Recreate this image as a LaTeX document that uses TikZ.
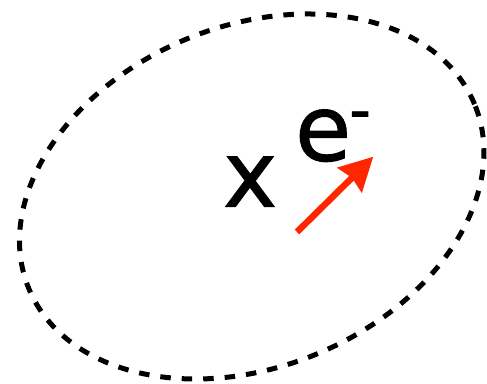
\documentclass[tikz,border=0pt]{standalone}
\usepackage{fontspec}
\setmainfont{DejaVu Sans}
\newfontfamily\heavyfont{DejaVu Sans}[FakeBold=1.2]
\usetikzlibrary{arrows.meta}
\definecolor{arrowred}{RGB}{255,38,0}
\tikzset{
  orbit/.style={line width=5pt, dash pattern=on 10.5pt off 11pt},
  bigtext/.style={inner sep=0pt, anchor=base west, font=\heavyfont\fontsize{91}{91}\selectfont},
  movearrow/.style={arrowred, line width=6.5pt, -{Stealth[length=33pt,width=34pt,inset=3pt]}}
}
\begin{document}
\begin{tikzpicture}[x=1pt,y=-1pt]
\useasboundingbox (0,0) rectangle (487,383);
\coordinate (c) at (251.75,196.5);
\draw[orbit, rotate around={22.5:(c)}] (c) ellipse [x radius=241.2pt, y radius=170.4pt];
\node[bigtext] (x) at (223,206.5) {x};
\node[bigtext] (e) at (295,160.5) {e\kern-2pt\raisebox{30pt}{\fontsize{60}{60}\selectfont -}};
\coordinate (a0) at (297,232);
\coordinate (a1) at (373.3,156.7);
\draw[movearrow] (a0) -- (a1);
\end{tikzpicture}
\end{document}
